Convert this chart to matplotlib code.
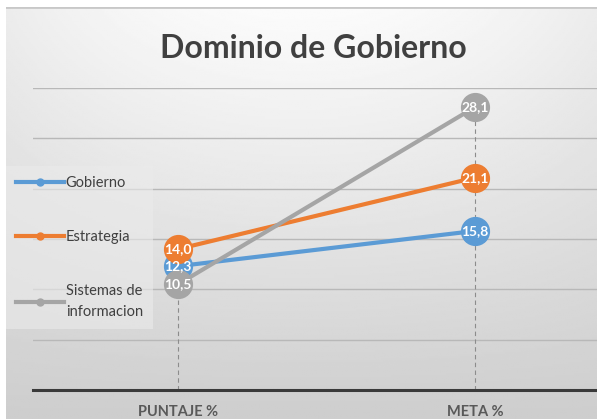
import numpy as np
import matplotlib
matplotlib.use("Agg")
import matplotlib.pyplot as plt
from matplotlib.lines import Line2D

# Datos del grafico
categorias = ["PUNTAJE %", "META %"]
gobierno = [12.3, 15.8]
estrategia = [14.0, 21.1]
sistemas = [10.5, 28.1]
series = ["Gobierno", "Estrategia", "Sistemas de\ninformacion"]
colores = ["#5B9BD5", "#ED7D31", "#A5A5A5"]

plt.rcParams["font.family"] = ["Lato", "DejaVu Sans"]

W, H = 597, 419
fig = plt.figure(figsize=(W / 100, H / 100), dpi=100)
fig.patch.set_facecolor("white")

# fondo degradado (blanco arriba, gris abajo)
bg = fig.add_axes([6 / W, 0, 1 - 6 / W, 1 - 7 / H])
yy = np.linspace(0, 1, 200)[:, None]
xx = np.linspace(-1, 1, 300)[None, :]
val = 0.985 - 0.18 * yy ** 1.1 - 0.06 * np.abs(xx) ** 2 * (1 - yy)
bg.imshow(val, cmap="gray", vmin=0, vmax=1, aspect="auto",
          extent=[0, 1, 0, 1], origin="upper")
bg.axhline(1, color="#c8c8c8", lw=2)
bg.set_xlim(0, 1)
bg.set_ylim(0, 1)
bg.axis("off")

ax = fig.add_axes([33 / W, (H - 390) / H, 1 - 33 / W, (390 - 88) / H])
ax.set_facecolor("none")
x = np.arange(len(categorias))
ax.set_xlim(-(178 - 33) / 297, (597 - 178) / 297)
ax.set_ylim(0, 30)
ax.set_yticks(np.arange(0, 31, 5))
ax.yaxis.grid(True, color="#b8b8b8", lw=1)
ax.set_axisbelow(True)
for s in ["top", "right", "left"]:
    ax.spines[s].set_visible(False)
ax.spines["bottom"].set_color("#3a3a3a")
ax.spines["bottom"].set_linewidth(2.2)
ax.tick_params(axis="y", left=False, labelleft=False)
ax.tick_params(axis="x", bottom=False, pad=7)
ax.set_xticks(x)
ax.set_xticklabels(categorias, fontsize=10.5, fontweight="bold", color="#595959")

# lineas de caida
todos = np.array([gobierno, estrategia, sistemas])
ax.vlines(x, 0, todos.max(axis=0), colors="#8c8c8c", linestyles=(0, (4, 3)), lw=0.8)

for vals, c in zip([gobierno, estrategia, sistemas], colores):
    ax.plot(x, vals, color=c, lw=3, marker="o", ms=20, mec=c, mfc=c, zorder=3)
    for xi, v in zip(x, vals):
        ax.text(xi, v, f"{v:.1f}".replace(".", ","), ha="center", va="center",
                color="white", fontsize=10, fontweight="bold", zorder=4)

handles = [Line2D([0], [0], color=c, lw=3, marker="o", ms=5) for c in colores]
leg = fig.legend(handles, series, loc="upper left",
                 bbox_to_anchor=(6 / W, 1 - 166 / H), fontsize=10.5,
                 handlelength=3.3, handletextpad=0.1, labelspacing=2.75,
                 borderpad=0.7, frameon=True, fancybox=False, borderaxespad=0)
leg.get_frame().set_facecolor("#ebebeb")
leg.get_frame().set_alpha(0.6)
leg.get_frame().set_edgecolor("none")
for t in leg.get_texts():
    t.set_color("#404040")
    t.set_linespacing(1.6)

fig.text(313 / W, 1 - 48 / H, "Dominio de Gobierno", ha="center", va="center",
         fontsize=23, fontweight="bold", color="#404040")

fig.savefig("out.png", dpi=100)
